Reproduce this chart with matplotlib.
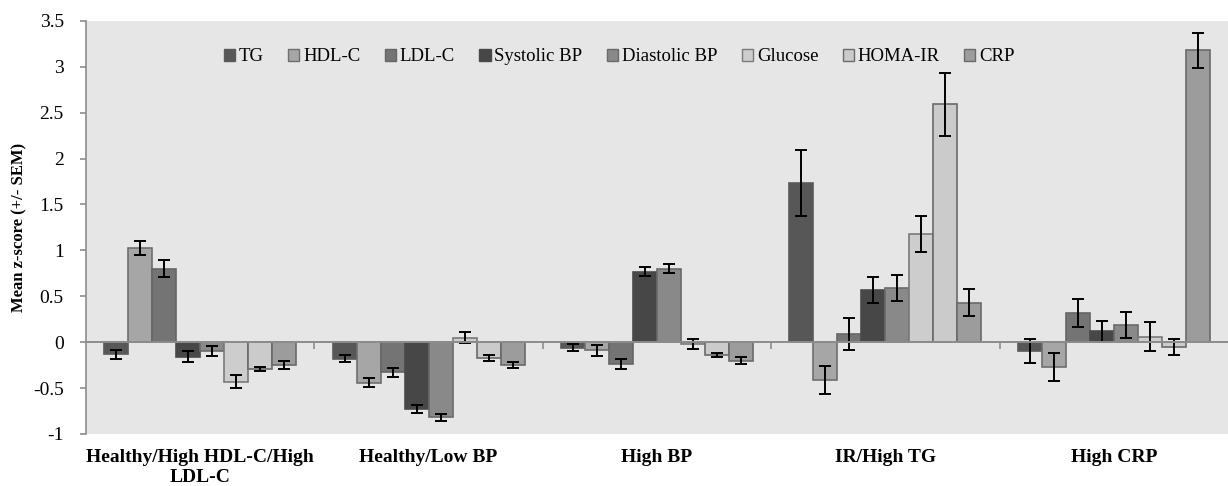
import numpy as np
import matplotlib
matplotlib.use("Agg")
import matplotlib.pyplot as plt
from matplotlib.patches import Patch

plt.rcParams["font.family"] = ["Liberation Serif", "DejaVu Serif"]

# ------------------------------------------------------------------
# Data (mean z-score, +/- SEM)
# ------------------------------------------------------------------
GROUPS = ["Healthy/High HDL-C/High\nLDL-C", "Healthy/Low BP", "High BP",
          "IR/High TG", "High CRP"]
SERIES = ["TG", "HDL-C", "LDL-C", "Systolic BP", "Diastolic BP",
          "Glucose", "HOMA-IR", "CRP"]

TG        = [-0.13, -0.18, -0.06, 1.73, -0.10]
HDL_C     = [1.03, -0.44, -0.09, -0.41, -0.27]
LDL_C     = [0.80, -0.33, -0.24, 0.09, 0.32]
SYS_BP    = [-0.16, -0.73, 0.77, 0.57, 0.12]
DIA_BP    = [-0.10, -0.82, 0.80, 0.59, 0.19]
GLUCOSE   = [-0.43, 0.05, -0.02, 1.18, 0.06]
HOMA_IR   = [-0.29, -0.17, -0.14, 2.59, -0.05]
CRP       = [-0.25, -0.25, -0.20, 0.43, 3.18]

TG_SEM      = [0.05, 0.04, 0.04, 0.36, 0.13]
HDL_C_SEM   = [0.075, 0.045, 0.055, 0.15, 0.15]
LDL_C_SEM   = [0.09, 0.05, 0.055, 0.175, 0.155]
SYS_BP_SEM  = [0.06, 0.045, 0.05, 0.14, 0.115]
DIA_BP_SEM  = [0.055, 0.04, 0.05, 0.14, 0.14]
GLUCOSE_SEM = [0.07, 0.06, 0.055, 0.20, 0.16]
HOMA_IR_SEM = [0.025, 0.03, 0.025, 0.34, 0.085]
CRP_SEM     = [0.04, 0.035, 0.035, 0.15, 0.19]

VALUES = [TG, HDL_C, LDL_C, SYS_BP, DIA_BP, GLUCOSE, HOMA_IR, CRP]
ERRORS = [TG_SEM, HDL_C_SEM, LDL_C_SEM, SYS_BP_SEM, DIA_BP_SEM,
          GLUCOSE_SEM, HOMA_IR_SEM, CRP_SEM]

COLORS = ["#575757", "#a6a6a6", "#747474", "#474747", "#898989",
          "#cdcdcd", "#cbcbcb", "#9c9c9c"]
EDGES = ["#5a5a5a", "#6e6e6e", "#666666", "#4a4a4a", "#6a6a6a",
         "#7a7a7a", "#6a6a6a", "#6a6a6a"]

fig = plt.figure(figsize=(12.28, 4.86), dpi=100)
ax = fig.add_axes([0.070, 0.107, 0.930, 0.850])
ax.set_facecolor("#e6e6e6")

x = np.arange(len(GROUPS))
w = 0.105
for j, (vals, errs) in enumerate(zip(VALUES, ERRORS)):
    pos = x + (j - 3.5) * w
    ax.bar(pos, vals, width=w, color=COLORS[j], edgecolor=EDGES[j],
           linewidth=1.2, zorder=2)
    ax.errorbar(pos, vals, yerr=errs, fmt="none", ecolor="black",
                elinewidth=1.4, capsize=4.5, capthick=1.4, zorder=3)

ax.set_xlim(-0.5, len(GROUPS) - 0.5)
ax.set_ylim(-1, 3.5)
yt = np.arange(-1, 3.51, 0.5)
ax.set_yticks(yt)
ax.set_yticklabels([f"{v:g}" for v in yt], fontsize=14)
ax.set_ylabel("Mean z-score (+/- SEM)", fontsize=12, fontweight="bold",
              labelpad=4)

for s in ["top", "right"]:
    ax.spines[s].set_visible(False)
ax.spines["left"].set_color("#8c8c8c")
ax.spines["left"].set_linewidth(1.2)
ax.spines["bottom"].set_position(("data", 0))
ax.spines["bottom"].set_color("#8c8c8c")
ax.spines["bottom"].set_linewidth(1.4)
ax.spines["bottom"].set_zorder(4)
ax.tick_params(axis="y", direction="out", length=4, color="#8c8c8c",
               width=1.2, pad=12)

# category boundary ticks on the zero line
ax.set_xticks([])
ax.set_xticks(x[:-1] + 0.5, minor=True)
ax.tick_params(axis="x", which="minor", direction="out", length=5,
               color="#8c8c8c", width=1.2)

# category labels at the bottom of the plot area
sec = ax.secondary_xaxis("bottom")
sec.set_xticks(x)
sec.set_xticklabels(GROUPS, fontsize=14, fontweight="bold")
sec.tick_params(length=0, pad=11)
sec.spines["bottom"].set_visible(False)

handles = [Patch(facecolor=c, edgecolor=e, label=s)
           for c, e, s in zip(COLORS, EDGES, SERIES)]
ax.legend(handles=handles, loc="center", bbox_to_anchor=(0.467, 0.913),
          ncol=8, frameon=False, fontsize=13.5, handlelength=0.6,
          handleheight=0.6, handletextpad=0.2, columnspacing=1.3)

fig.savefig("out.png", dpi=100, facecolor="white")
